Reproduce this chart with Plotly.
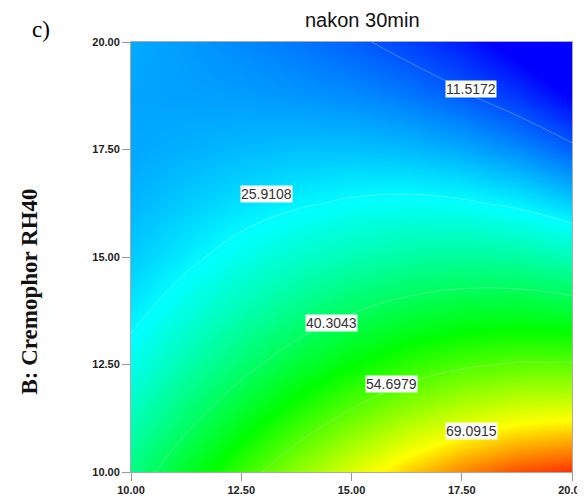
import plotly.graph_objects as go

# A: x factor, B: Cremophor RH40 (y factor), grid step 1.25
a_vals = [10.0, 11.25, 12.5, 13.75, 15.0, 16.25, 17.5, 18.75, 20.0]
b_vals = [10.0, 11.25, 12.5, 13.75, 15.0, 16.25, 17.5, 18.75, 20.0]

# response, rows = B, cols = A
release = [
    [37.0, 44.6, 52.0, 59.0, 65.4, 70.9, 75.4, 78.7, 80.5],
    [32.1, 38.6, 44.9, 50.9, 56.2, 60.8, 64.3, 66.6, 67.5],
    [27.9, 33.3, 38.5, 43.4, 47.7, 51.3, 53.8, 55.1, 55.1],
    [24.5, 28.7, 32.8, 36.6, 39.9, 42.4, 44.0, 44.4, 43.4],
    [21.7, 24.8, 27.9, 30.6, 32.8, 34.3, 34.9, 34.3, 32.4],
    [19.8, 21.8, 23.7, 25.3, 26.5, 27.0, 26.5, 25.0, 22.1],
    [18.7, 19.5, 20.3, 20.9, 21.0, 20.4, 19.0, 16.4, 12.6],
    [18.4, 18.1, 17.8, 17.2, 16.3, 14.7, 12.2, 8.7, 3.9],
    [19.0, 17.6, 16.1, 14.5, 12.5, 9.8, 6.4, 1.9, -3.9],
]

levels = [11.5172, 25.9108, 40.3043, 54.6979, 69.0915]
label_a = [17.7, 13.08, 14.54, 15.9, 17.71]
label_b = [18.9, 16.47, 13.47, 12.05, 10.95]

ticks = [10, 12.5, 15, 17.5, 20]

cscale = [
    [0.0, "rgb(0,0,255)"],
    [0.29, "rgb(0,255,255)"],
    [0.57, "rgb(0,255,0)"],
    [0.83, "rgb(255,255,0)"],
    [1.0, "rgb(255,40,0)"],
]

fig = go.Figure()
fig.add_trace(go.Heatmap(
    x=a_vals, y=b_vals, z=release, zsmooth="best",
    colorscale=cscale, zmin=4, zmax=81, showscale=False, hoverinfo="skip",
))
fig.add_trace(go.Contour(
    x=a_vals, y=b_vals, z=release,
    contours=dict(start=levels[0], end=levels[-1],
                  size=levels[1] - levels[0], coloring="none"),
    line=dict(color="rgba(255,255,255,0.28)", width=1),
    line_smoothing=1.3, showscale=False, hoverinfo="skip",
))

for lv, la, lb in zip(levels, label_a, label_b):
    fig.add_annotation(
        x=la, y=lb, text=f"{lv:.4f}", showarrow=False,
        font=dict(family="Arial", size=14, color="#333333"),
        bgcolor="white", borderpad=0,
    )

axis_style = dict(
    range=[10, 20], tickvals=ticks, tickformat=".2f",
    ticks="outside", ticklen=8, tickcolor="#999999",
    showline=True, linecolor="#aaaaaa", linewidth=1, mirror=True,
    showgrid=False, zeroline=False, automargin=False,
    tickfont=dict(family="Arial", size=11, color="#222222", weight=700),
)

# page body adds ~7px offset, so the figure is a bit smaller than the window
fig.update_layout(
    width=578, height=487,
    margin=dict(l=123, r=14, t=34, b=23),
    paper_bgcolor="white", plot_bgcolor="white",
    xaxis=axis_style, yaxis=axis_style,
    showlegend=False,
)

fig.add_annotation(
    text="nakon 30min", xref="paper", yref="paper", x=0.526, y=1.05,
    xanchor="center", yanchor="middle",
    showarrow=False, font=dict(family="Arial", size=20, color="#111111"),
)
fig.add_annotation(
    text="c)", xref="paper", yref="paper", x=-0.204, y=1.03,
    xanchor="center", yanchor="middle",
    showarrow=False, font=dict(family="Times New Roman", size=23, color="black"),
)
fig.add_annotation(
    text="<b>B: Cremophor RH40</b>", xref="paper", yref="paper",
    x=-0.231, y=0.42, xanchor="center", yanchor="middle",
    textangle=-90, showarrow=False,
    font=dict(family="Times New Roman", size=23, color="#111111"),
)

fig.write_html("out.html")
